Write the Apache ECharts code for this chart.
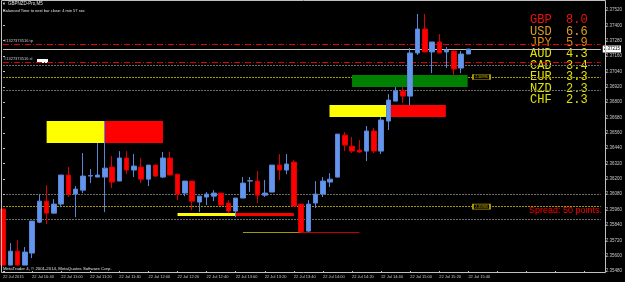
<!DOCTYPE html>
<html>
<head>
<meta charset="utf-8">
<script src="https://cdn.jsdelivr.net/npm/echarts@6/dist/echarts.min.js"></script>
<style>
  html, body { margin: 0; padding: 0; background: #000; }
  #chart { width: 625px; height: 282px; }
</style>
</head>
<body>
<div id="chart"></div>
<script>
// GBPNZD M5, 22 Jul 2015 10:20 .. 15:40
const timeLabels = [
  "22 Jul 2015", "22 Jul 10:40", "22 Jul 11:00", "22 Jul 11:20", "22 Jul 11:40",
  "22 Jul 12:00", "22 Jul 12:20", "22 Jul 12:40", "22 Jul 13:00", "22 Jul 13:20",
  "22 Jul 13:40", "22 Jul 14:00", "22 Jul 14:20", "22 Jul 14:40", "22 Jul 15:00",
  "22 Jul 15:20", "22 Jul 15:40"
];
// [open, close, low, high]
const ohlc = [
  [2.35964, 2.35526, 2.35526, 2.35964], [2.35526, 2.35635, 2.35526, 2.35698],
  [2.35635, 2.35526, 2.35526, 2.35721], [2.35526, 2.35628, 2.35526, 2.35667],
  [2.35620, 2.35870, 2.35581, 2.35870], [2.35862, 2.36026, 2.35854, 2.36081],
  [2.36026, 2.35932, 2.35847, 2.36151], [2.35932, 2.36003, 2.35932, 2.36042],
  [2.36003, 2.36230, 2.35979, 2.36230], [2.36230, 2.36081, 2.36058, 2.36292],
  [2.36081, 2.36120, 2.35901, 2.36144], [2.36112, 2.36222, 2.36089, 2.36402],
  [2.36222, 2.36226, 2.36167, 2.36277], [2.36214, 2.36230, 2.36214, 2.36480],
  [2.36214, 2.36284, 2.35940, 2.36652], [2.36292, 2.36175, 2.36128, 2.36378],
  [2.36183, 2.36363, 2.36183, 2.36417], [2.36363, 2.36269, 2.36237, 2.36417],
  [2.36269, 2.36300, 2.36214, 2.36394], [2.36292, 2.36198, 2.36167, 2.36363],
  [2.36198, 2.36308, 2.36144, 2.36308], [2.36308, 2.36222, 2.36214, 2.36308],
  [2.36214, 2.36363, 2.36206, 2.36410], [2.36363, 2.36230, 2.36230, 2.36410],
  [2.36237, 2.36081, 2.36034, 2.36237], [2.36089, 2.36183, 2.36065, 2.36183],
  [2.36183, 2.36026, 2.35956, 2.36183], [2.36019, 2.36065, 2.35940, 2.36065],
  [2.36058, 2.36081, 2.35995, 2.36097], [2.36065, 2.36089, 2.36026, 2.36112],
  [2.36089, 2.35995, 2.35995, 2.36089], [2.36011, 2.35948, 2.35932, 2.36034],
  [2.35948, 2.36050, 2.35901, 2.36050], [2.36050, 2.36167, 2.36050, 2.36214],
  [2.36183, 2.36186, 2.36097, 2.36214], [2.36183, 2.36073, 2.36011, 2.36261],
  [2.36073, 2.36089, 2.36058, 2.36191], [2.36097, 2.36308, 2.36097, 2.36308],
  [2.36308, 2.36269, 2.36191, 2.36394], [2.36269, 2.36316, 2.36237, 2.36394],
  [2.36331, 2.35987, 2.35987, 2.36347], [2.36003, 2.35784, 2.35784, 2.36003],
  [2.35792, 2.36003, 2.35784, 2.36034], [2.36011, 2.36081, 2.35972, 2.36183],
  [2.36081, 2.36183, 2.36058, 2.36214], [2.36175, 2.36198, 2.36136, 2.36245],
  [2.36214, 2.36550, 2.36214, 2.36550], [2.36542, 2.36464, 2.36417, 2.36566],
  [2.36456, 2.36417, 2.36402, 2.36527], [2.36425, 2.36410, 2.36402, 2.36503],
  [2.36417, 2.36574, 2.36339, 2.36613], [2.36574, 2.36417, 2.36402, 2.36598],
  [2.36417, 2.36660, 2.36394, 2.36683], [2.36652, 2.36816, 2.36582, 2.36863],
  [2.36808, 2.36887, 2.36808, 2.36918], [2.36887, 2.36847, 2.36793, 2.36918],
  [2.36847, 2.37184, 2.36777, 2.37223], [2.37184, 2.37371, 2.37168, 2.37489],
  [2.37371, 2.37192, 2.37192, 2.37489], [2.37192, 2.37270, 2.37027, 2.37270],
  [2.37270, 2.37184, 2.37184, 2.37332], [2.37192, 2.37207, 2.37066, 2.37231],
  [2.37199, 2.37059, 2.37012, 2.37199], [2.37066, 2.37176, 2.37027, 2.37199],
  [2.37176, 2.37215, 2.37176, 2.37215]
];
const bidPrice = 2.37215;
const tradeNames = ["#1327373516 tp", "#1327373516 sl"];
const tradeLevels = [2.37254, 2.37114];
const greyLevels = [2.37090, 2.36895, 2.36081, 2.35886];
const oliveLevels = [2.36996, 2.35983];
// zones: [startBar, midBar, endBar, top, bottom] -> yellow half, red half
const zones = [
  [6, 14, 22, 2.36652, 2.36480],
  [44.9, 53.3, 60.9, 2.36777, 2.36683]
];
const greenZone = [48, 63.9, 2.37012, 2.36918];
// [startBar, midBar, endBar, price]
const thickSegment = [24, 32, 40, 2.35921];
const thinSegment = [33, 41, 49, 2.35784];
const currencies = ["GBP", "USD", "JPY", "AUD", "CAD", "EUR", "NZD", "CHF"];
const strengths = [8.0, 6.6, 5.9, 4.3, 3.4, 3.3, 2.3, 2.3];
const spreadPoints = 50;

const strengthColors = ["#f01010", "#e0a020", "#e08a10", "#e2e200", "#e2e200", "#e2e200", "#e2e200", "#e2e200"];
const smallFont = '"Liberation Sans", sans-serif';

const chart = echarts.init(document.getElementById("chart"));

const fullLines = [];
greyLevels.forEach((lv) => {
  fullLines.push({ yAxis: lv, lineStyle: { color: "#6c6c6c", width: 1, type: [2, 1] } });
});
oliveLevels.forEach((lv) => {
  fullLines.push({ yAxis: lv, lineStyle: { color: "#a89800", width: 1, type: [2, 1] } });
});
fullLines.push({
  yAxis: bidPrice,
  lineStyle: { color: "#c0c0c0", width: 1, type: "solid" },
  label: {
    show: true, position: "end", formatter: bidPrice.toFixed(5), distance: 2,
    color: "#000", backgroundColor: "#fff", padding: [1, 1],
    fontSize: 4.5, fontFamily: smallFont
  }
});
tradeLevels.forEach((lv, i) => {
  fullLines.push({
    yAxis: lv,
    lineStyle: { color: "#e00000", width: 1, type: [6, 2, 1, 2] },
    label: {
      show: true, position: "insideStartTop", formatter: tradeNames[i],
      color: "#c8c8c8", fontSize: 4, fontFamily: smallFont, distance: 1
    }
  });
});

const areaData = [];
zones.forEach((z) => {
  areaData.push([{ xAxis: z[0], yAxis: z[3], itemStyle: { color: "#ffff00" } }, { xAxis: z[1], yAxis: z[4] }]);
  areaData.push([{ xAxis: z[1], yAxis: z[3], itemStyle: { color: "#ff0000" } }, { xAxis: z[2], yAxis: z[4] }]);
});
areaData.push([{ xAxis: greenZone[0], yAxis: greenZone[2], itemStyle: { color: "#008000" } },
               { xAxis: greenZone[1], yAxis: greenZone[3] }]);

const segData = [
  [{ coord: [thickSegment[0], thickSegment[3]], lineStyle: { color: "#ffff00", width: 3 } }, { coord: [thickSegment[1], thickSegment[3]] }],
  [{ coord: [thickSegment[1], thickSegment[3]], lineStyle: { color: "#ff0000", width: 3 } }, { coord: [thickSegment[2], thickSegment[3]] }],
  [{ coord: [thinSegment[0], thinSegment[3]], lineStyle: { color: "#a89800", width: 1 } }, { coord: [thinSegment[1], thinSegment[3]] }],
  [{ coord: [thinSegment[1], thinSegment[3]], lineStyle: { color: "#c00000", width: 1 } }, { coord: [thinSegment[2], thinSegment[3]] }]
];

const graphics = [
  { type: "rect", z: 10, silent: true, shape: { x: 1.5, y: 0.5, width: 604, height: 272 },
    style: { fill: null, stroke: "#c0c0c0", lineWidth: 1 } },
  { type: "text", x: 2, y: 3.5, style: { text: "▼", fill: "#e0e0e0", font: "4px " + smallFont, verticalAlign: "middle" } },
  { type: "text", x: 8, y: 3.5, style: { text: "GBPNZD-Pro,M5", fill: "#e0e0e0", font: "4.5px " + smallFont, verticalAlign: "middle" } },
  { type: "text", x: 3, y: 11, style: { text: "Balanced Time to next bar close: 4 min 57 sec", fill: "#e0e0e0", font: "4px " + smallFont, verticalAlign: "middle" } },
  { type: "text", x: 3, y: 269, style: { text: "MetaTrader 4, © 2001-2014, MetaQuotes Software Corp.", fill: "#e0e0e0", font: "4.3px " + smallFont, verticalAlign: "middle" } },
  { type: "rect", shape: { x: 37, y: 59, width: 11, height: 4 }, style: { fill: "#ffffff" } },
  { type: "text", x: 529, y: 210.5, style: { text: "Spread: " + spreadPoints + " points.", fill: "#ff0000", font: "9px " + smallFont, verticalAlign: "middle" } }
];
currencies.forEach((c, i) => {
  const y = 20 + i * 11.43;
  graphics.push({ type: "text", x: 530, y: y, style: { text: c, fill: strengthColors[i], font: '12px "Liberation Mono", monospace', verticalAlign: "middle" } });
  graphics.push({ type: "text", x: 566, y: y, style: { text: strengths[i].toFixed(1), fill: strengthColors[i], font: '12px "Liberation Mono", monospace', verticalAlign: "middle" } });
});

const option = {
  backgroundColor: "#000",
  animation: false,
  grid: { left: 1, right: 20, top: 10, bottom: 11 },
  xAxis: {
    type: "value",
    min: 0,
    max: 82.2,
    interval: 4,
    axisLine: { show: false },
    axisTick: { show: true, length: 2, lineStyle: { color: "#c0c0c0" } },
    splitLine: { show: false },
    axisLabel: {
      align: "left",
      margin: 4,
      color: "#c8c8c8",
      fontSize: 4,
      fontFamily: smallFont,
      showMinLabel: true,
      showMaxLabel: false,
      formatter: (v) => {
        const k = Math.round(v / 4);
        if (Math.abs(v - k * 4) > 1e-6) return "";
        return timeLabels[k] || "";
      }
    }
  },
  yAxis: {
    type: "value",
    position: "right",
    min: 2.3548,
    max: 2.3752,
    interval: 0.0012,
    scale: true,
    axisLine: { show: false },
    axisTick: { show: true, length: 2, lineStyle: { color: "#c0c0c0" } },
    splitLine: { show: false },
    axisLabel: {
      margin: 5,
      color: "#c8c8c8",
      fontSize: 4.5,
      fontFamily: smallFont,
      formatter: (v) => v.toFixed(5)
    }
  },
  graphic: graphics,
  series: [
    {
      name: "levels",
      type: "line",
      data: [],
      z: 0,
      markLine: {
        z: 0, silent: true, precision: 5, symbol: ["none", "none"],
        label: { show: false }, data: fullLines
      }
    },
    {
      name: "zones",
      type: "line",
      data: [],
      z: 1,
      markArea: { z: 1, silent: true, data: areaData }
    },
    {
      name: "segments",
      type: "line",
      data: [],
      z: 1,
      markLine: {
        z: 1.5, silent: true, precision: 5, symbol: ["none", "none"],
        lineStyle: { type: "solid" }, label: { show: false }, data: segData
      },
      markPoint: {
        z: 3,
        silent: true,
        symbol: "rect",
        symbolSize: [17, 5],
        itemStyle: { color: "#000", borderColor: "#b8a000", borderWidth: 1 },
        label: { show: true, color: "#d0b400", fontSize: 3.5, fontFamily: smallFont, formatter: (p) => p.value.toFixed(5) },
        data: oliveLevels.map((lv) => ({ coord: [65.8, lv], value: lv }))
      }
    },
    {
      name: "GBPNZD",
      type: "candlestick",
      z: 2,
      barWidth: 5,
      data: ohlc.map((d, i) => [i, d[0], d[1], d[2], d[3]]),
      itemStyle: {
        color: "#6495ed",
        color0: "#ff0000",
        borderColor: "#5a86d8",
        borderColor0: "#d80000",
        borderWidth: 1
      }
    }
  ]
};

chart.setOption(option);
</script>
</body>
</html>
